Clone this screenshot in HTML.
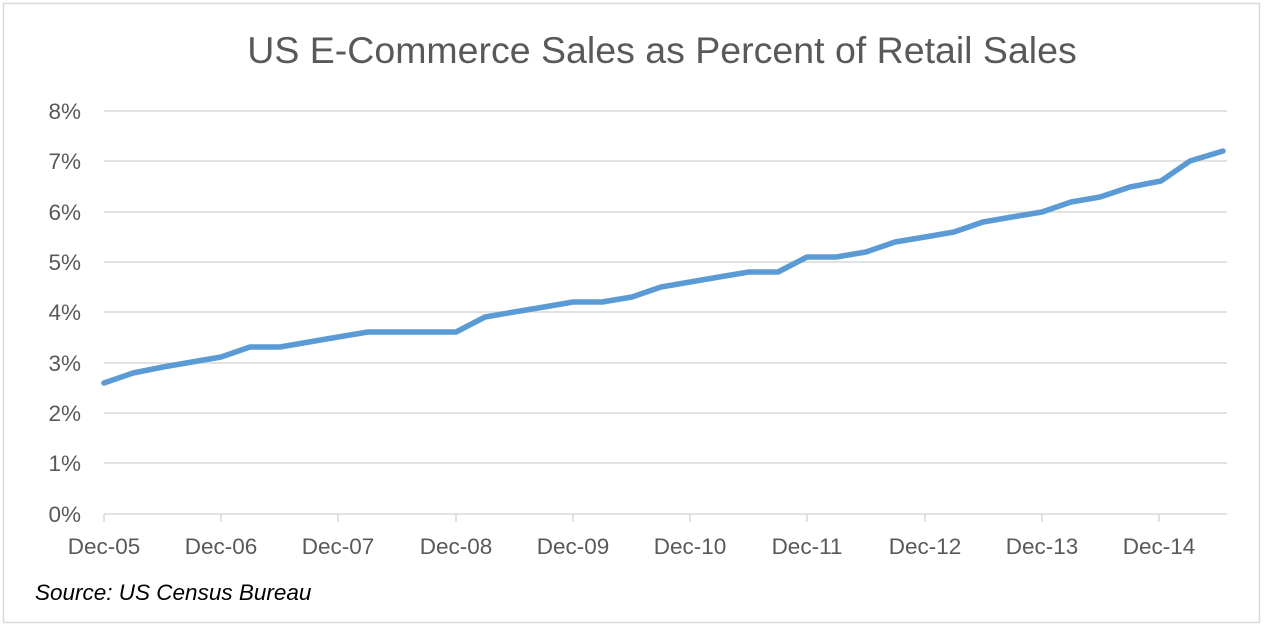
<!DOCTYPE html>
<html><head><meta charset="utf-8"><style>
body{margin:0;background:#fff;}
svg{display:block;font-family:"Liberation Sans",sans-serif;}
</style></head><body>
<svg width="1265" height="628" viewBox="0 0 1265 628">
<rect x="3.5" y="3.5" width="1256" height="619" fill="#fff" stroke="#d9d9d9" stroke-width="1.5"/>
<text x="662" y="63" text-anchor="middle" font-size="37.5" fill="#595959">US E-Commerce Sales as Percent of Retail Sales</text>
<g stroke="#d9d9d9" stroke-width="1.5">
<line x1="104" x2="1227" y1="111" y2="111"/>
<line x1="104" x2="1227" y1="161" y2="161"/>
<line x1="104" x2="1227" y1="212" y2="212"/>
<line x1="104" x2="1227" y1="262" y2="262"/>
<line x1="104" x2="1227" y1="312" y2="312"/>
<line x1="104" x2="1227" y1="363" y2="363"/>
<line x1="104" x2="1227" y1="413" y2="413"/>
<line x1="104" x2="1227" y1="463" y2="463"/>
<line x1="104" x2="1227" y1="514" y2="514"/>
<line x1="104" x2="104" y1="514" y2="522"/><line x1="221" x2="221" y1="514" y2="522"/><line x1="338" x2="338" y1="514" y2="522"/><line x1="456" x2="456" y1="514" y2="522"/><line x1="573" x2="573" y1="514" y2="522"/><line x1="690" x2="690" y1="514" y2="522"/><line x1="807" x2="807" y1="514" y2="522"/><line x1="925" x2="925" y1="514" y2="522"/><line x1="1042" x2="1042" y1="514" y2="522"/><line x1="1159" x2="1159" y1="514" y2="522"/>
</g>
<g font-size="22.5" fill="#595959" text-anchor="end">
<text x="81" y="119">8%</text><text x="81" y="169">7%</text><text x="81" y="220">6%</text><text x="81" y="270">5%</text><text x="81" y="320">4%</text><text x="81" y="371">3%</text><text x="81" y="421">2%</text><text x="81" y="471">1%</text><text x="81" y="522">0%</text>
</g>
<g font-size="22.5" fill="#595959" text-anchor="middle">
<text x="104" y="554">Dec-05</text><text x="221" y="554">Dec-06</text><text x="338" y="554">Dec-07</text><text x="456" y="554">Dec-08</text><text x="573" y="554">Dec-09</text><text x="690" y="554">Dec-10</text><text x="807" y="554">Dec-11</text><text x="925" y="554">Dec-12</text><text x="1042" y="554">Dec-13</text><text x="1159" y="554">Dec-14</text>
</g>
<text x="35" y="600" font-size="22.5" font-style="italic" fill="#000">Source: US Census Bureau</text>
<polyline fill="none" stroke="#5b9bd5" stroke-width="5.5" stroke-linejoin="round" stroke-linecap="round" points="
104,383 133,373 163,367 192,362 221,357 250,347 280,347 309,342 338,337 368,332 397,332 426,332 456,332 485,317 514,312 544,307 573,302 602,302 632,297 661,287 690,282 719,277 749,272 778,272 807,257 836,257 866,252 895,242 925,237 954,232 983,222 1012,217 1042,212 1071,202 1100,197 1130,187 1161,181 1190,161 1223,151"/>
</svg>
</body></html>
